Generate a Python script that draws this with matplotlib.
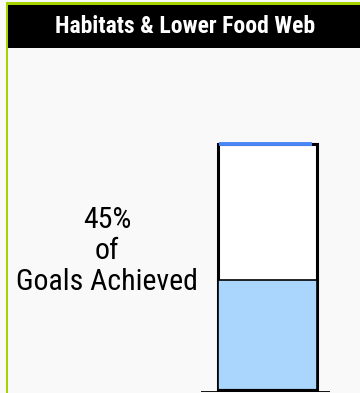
import matplotlib.pyplot as plt
from matplotlib import font_manager

title = 'Habitats & Lower Food Web'
pct_achieved = 45
pct_total = 100
label_lines = ['45%', 'of', 'Goals Achieved']

names = {f.name for f in font_manager.fontManager.ttflist}
narrow = 'Roboto Condensed' if 'Roboto Condensed' in names else 'Liberation Sans'

W, H = 360, 393
fig = plt.figure(figsize=(W / 100, H / 100), dpi=100)
fig.patch.set_facecolor('#f9f9f9')


def px(x0, y0, x1, y1):
    # pixel box (top-left origin) -> figure fraction rect
    return [x0 / W, 1 - y1 / H, (x1 - x0) / W, (y1 - y0) / H]


# frame: green edge + black header
bg = fig.add_axes([0, 0, 1, 1])
bg.set_xlim(0, W)
bg.set_ylim(H, 0)
bg.axis('off')
bg.add_patch(plt.Rectangle((6, 2), W - 6, 3, color='#a6d300', lw=0))
bg.add_patch(plt.Rectangle((6, 2), 2, H - 2, color='#a6d300', lw=0))
bg.add_patch(plt.Rectangle((8, 5), W - 8, 43, color='black', lw=0))
bg.text(185, 26.5, title, color='white', fontsize=17, fontweight='bold',
        family=[narrow, 'DejaVu Sans'], ha='center', va='center')

bg.text(107, 251, '\n'.join(label_lines), fontsize=21.5, family=[narrow, 'DejaVu Sans'],
        ha='center', va='center', linespacing=1.12, color='black')

# gauge
ax = fig.add_axes(px(201, 140, 330, 392))
ax.set_xlim(0, 129)
ax.set_ylim(-0.4, 101.6)
ax.axis('off')
ax.bar(66.5, pct_total, width=99, bottom=0, color='white', edgecolor='black', lw=2.2)
ax.bar(66.5, pct_achieved, width=99, bottom=0, color='#aad5fd', edgecolor='black', lw=1.2)
ax.plot([17, 116], [0, 0], color='black', lw=3, solid_capstyle='butt')
ax.axhline(-0.4, color='black', lw=1.3)
ax.plot([18, 111], [pct_total, pct_total], color='#4a86f6', lw=2.8, solid_capstyle='butt')

fig.savefig('out.png', dpi=100, facecolor=fig.get_facecolor())
